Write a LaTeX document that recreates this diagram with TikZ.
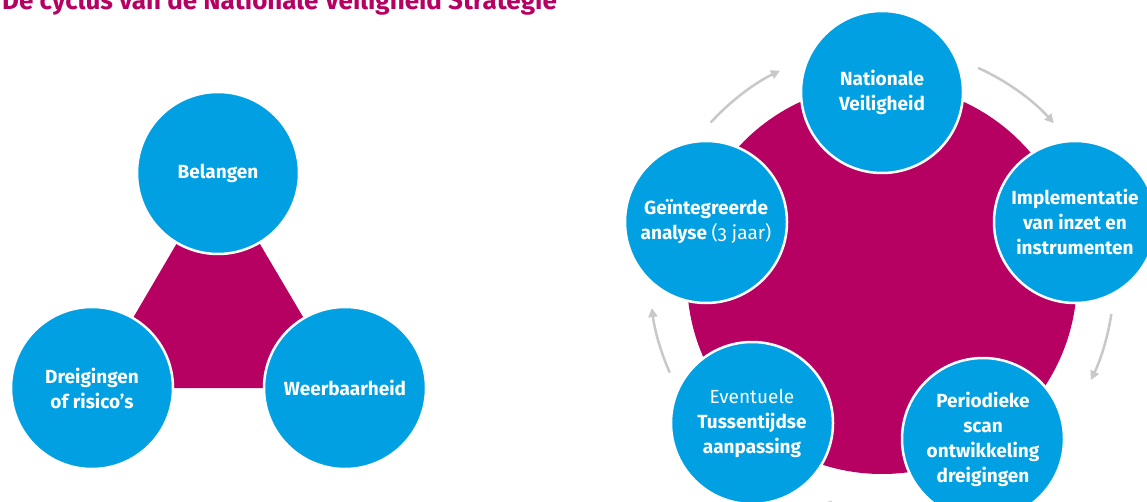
\documentclass[tikz,border=0pt]{standalone}
\usepackage{fontspec}
\setmainfont{Fira Sans}
\usetikzlibrary{arrows.meta,backgrounds}
\definecolor{nvmag}{RGB}{182,0,98}
\definecolor{nvblue}{RGB}{0,160,226}
\definecolor{nvgray}{RGB}{200,200,200}
\begin{document}
\begin{tikzpicture}[x=1pt,y=-1pt,
  bub/.style={circle, fill=nvblue, draw=white, line width=2.5pt, minimum size=162pt,
    inner sep=0pt, align=center, text=white, font=\fontsize{19}{25}\selectfont\bfseries},
  cyc/.style={draw=nvgray, line width=2.5pt, -{Triangle[length=9pt,width=9pt]}},
  titlestyle/.style={anchor=base west, inner sep=0pt, text=nvmag,
    font=\fontsize{26}{30}\selectfont\bfseries}]
\useasboundingbox (0,0) rectangle (1147,502);
\clip (0,0) rectangle (1147,502);

\node[titlestyle] (title) at (2,10) {De cyclus van de Nationale Veiligheid Strategie};

% left diagram
\node[bub] (bel) at (218,173) {Belangen};
\node[bub] (dre) at (92,388) {Dreigingen\\of risico’s};
\node[bub] (wee) at (345,388) {Weerbaarheid};
\begin{scope}[on background layer]
  \fill[nvmag] (bel.center) -- (dre.center) -- (wee.center) -- cycle;
\end{scope}

% right diagram
\node[circle, fill=nvmag, minimum size=390pt, inner sep=0pt] (core) at (882,279) {};
\node[bub] (nat) at (882,92) {Nationale\\Veiligheid};
\node[bub] (imp) at (1075,222) {Implementatie\\van inzet en\\instrumenten};
\node[bub] (per) at (983,439) {Periodieke\\scan\\ontwikkeling\\dreigingen};
\node[bub] (eve) at (752,423) {{\mdseries Eventuele}\\Tussentijdse\\aanpassing};
\node[bub] (gei) at (706,222) {Geïntegreerde\\analyse {\mdseries\addfontfeatures{Numbers=OldStyle}(3 jaar)}};

% cycle arrows
\draw[cyc] ([shift={(-137.6:232)}]core.center) arc[start angle=-137.6, end angle=-116.1, radius=232];
\draw[cyc] ([shift={(-65.5:232)}]core.center) arc[start angle=-65.5, end angle=-42.2, radius=232];
\draw[cyc] ([shift={(8.7:232)}]core.center) arc[start angle=8.7, end angle=25.8, radius=232];
\draw[cyc] ([shift={(83:232)}]core.center) arc[start angle=83, end angle=105, radius=232];
\draw[cyc] ([shift={(156.2:232)}]core.center) arc[start angle=156.2, end angle=172.8, radius=232];
\end{tikzpicture}
\end{document}
